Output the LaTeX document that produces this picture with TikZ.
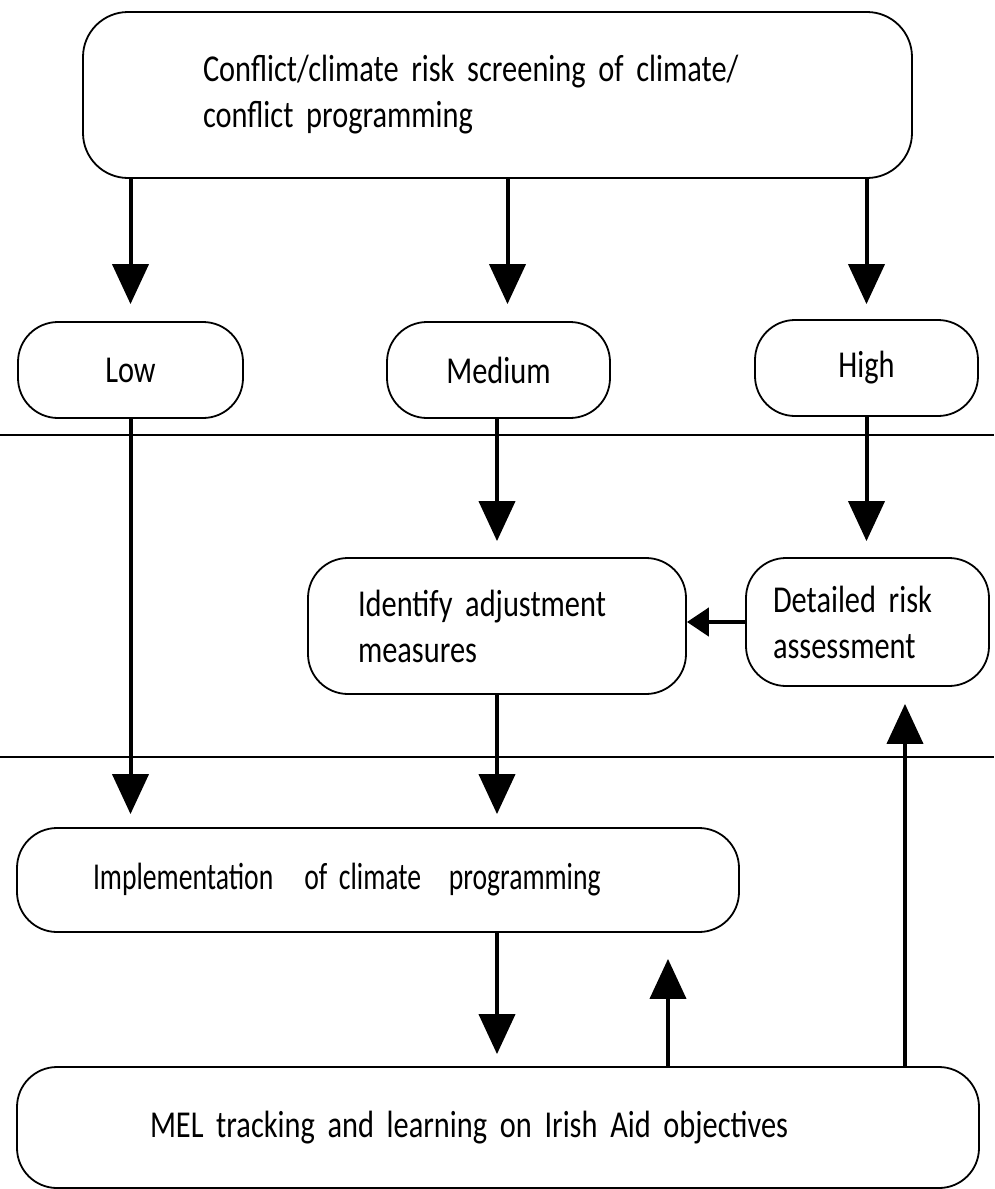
\documentclass[tikz,border=0pt]{standalone}
\usepackage{fontspec}
\setmainfont{Carlito}[FakeStretch=0.8]
\usetikzlibrary{arrows.meta,calc}
\newcommand{\boxfont}{\fontsize{38}{46}\selectfont}
\begin{document}
\begin{tikzpicture}[x=1pt,y=-1pt,
  box/.style={draw, line width=1.8pt, rounded corners=40pt, inner ysep=0pt,
    font=\boxfont, align=left},
  arr/.style={line width=4pt, -{Triangle[width=36pt,length=40pt]}},
  sarr/.style={line width=4.5pt, -{Triangle[width=28pt,length=22pt]}},
  divider/.style={line width=2pt}]
\fill[white] (0,0) rectangle (994,1189);
\useasboundingbox (0,0) rectangle (994,1189);

% nodes
\node[box, rounded corners=45pt, minimum width=829pt, minimum height=166pt,
  inner xsep=120pt, text width=589pt] (top) at (497.5,95)
  {Conflict/climate risk screening of climate/\\conflict programming};

\node[box, minimum width=225pt, minimum height=96pt, align=center] (low) at (130.5,370) {Low};
\node[box, minimum width=223pt, minimum height=96pt, align=center] (med) at (498.5,370) {Medium};
\node[box, minimum width=223pt, minimum height=96pt, align=center] (high) at (866.5,368) {High};

\node[box, minimum width=378pt, minimum height=136pt,
  inner xsep=50pt, text width=278pt] (ident) at (497,626)
  {Identify adjustment\\measures};

\node[box, minimum width=243pt, minimum height=128pt,
  inner xsep=27pt, text width=189pt] (detail) at (867.5,622)
  {Detailed risk\\assessment};

\node[box, minimum width=722pt, minimum height=104pt,
  inner xsep=76pt, text width=570pt] (impl) at (378,880)
  {\scalebox{0.91}[1]{Implementation\hspace{0.9em}of climate\hspace{0.8em}programming}};

\node[box, minimum width=962pt, minimum height=121pt,
  inner xsep=133pt, text width=696pt] (mel) at (498,1127.5)
  {MEL tracking and learning on Irish Aid objectives};

% dividers
\draw[divider] (0,435) -- (994,435);
\draw[divider] (0,757) -- (994,757);

% helper coordinates
\coordinate (mtop) at ($(med.north)+(9,-17)$);
\coordinate (mtopsrc) at (mtop |- top.south);
\coordinate (impup) at ($(impl.south -| 668,0)+(0,26)$);
\coordinate (melup) at (mel.north -| 668,0);
\coordinate (detup) at ($(detail.south -| 905,0)+(0,17)$);
\coordinate (melright) at (mel.north -| 905,0);

% connectors
\draw[arr] (top.south -| low.north) -- ($(low.north)+(0,-17)$);
\draw[arr] (mtopsrc) -- (mtop);
\draw[arr] (top.south -| high.north) -- ($(high.north)+(0,-15)$);

\draw[arr] (low.south) -- ($(impl.north -| low.south)+(0,-13)$);
\draw[arr] (med.south -| ident.north) -- ($(ident.north)+(0,-16)$);
\draw[arr] (high.south) -- ($(detail.north -| high.south)+(0,-16)$);
\draw[sarr] (detail.west) -- (ident.east |- detail.west);
\draw[arr] (ident.south) -- ($(impl.north -| ident.south)+(0,-13)$);
\draw[arr] (impl.south -| ident.south) -- ($(mel.north -| ident.south)+(0,-12)$);
\draw[arr] (melup) -- (impup);
\draw[arr] (melright) -- (detup);
\end{tikzpicture}
\end{document}
